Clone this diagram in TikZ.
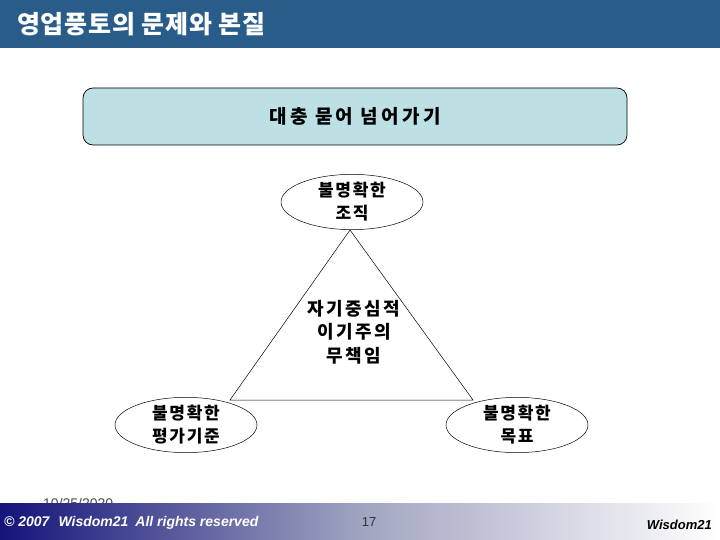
\documentclass[tikz,border=0pt]{standalone}
\usepackage{fontspec}
\setmainfont{Liberation Sans}
\newfontfamily\kr{Noto Sans CJK KR}
\newfontfamily\krt[LetterSpace=3]{Noto Sans CJK KR}
\newfontfamily\krw[LetterSpace=10]{Noto Sans CJK KR}
\newfontfamily\krc[LetterSpace=13]{Noto Sans CJK KR}
\newfontfamily\krb[LetterSpace=17]{Noto Sans CJK KR}
\usetikzlibrary{shapes.geometric,calc}
\definecolor{titlebar}{HTML}{2A5C8A}
\definecolor{boxfill}{HTML}{BCE0E4}
\definecolor{navy}{HTML}{14147A}
\definecolor{midgray}{HTML}{A0A4C0}
\begin{document}
\begin{tikzpicture}[x=1pt,y=-1pt,
  oval/.style={ellipse,draw=black,line width=0.5pt,minimum width=142pt,minimum height=54pt,inner sep=0pt,align=center,font=\krw\bfseries\fontsize{17}{23}\selectfont},
  edge/.style={draw=black,line width=0.5pt},
  krtext/.style={font=\krc\bfseries\fontsize{18}{23.5}\selectfont,align=center,inner sep=0pt}]
\useasboundingbox (0,0) rectangle (720,540);
\fill[white] (0,0) rectangle (720,540);
% title bar
\fill[titlebar] (0,0) rectangle (720,48);
\node[anchor=west,text=white,font=\krt\bfseries\fontsize{25}{28}\selectfont,inner sep=0pt] (title) at (17,24) {영업풍토의 문제와 본질};
% top box
\node[draw=black,line width=0.7pt,fill=boxfill,rounded corners=10pt,minimum width=544pt,minimum height=57pt,inner sep=0pt,font=\krb\bfseries\fontsize{19}{21}\selectfont] (box) at (355,116.5) {\raisebox{-1.5pt}{대충 묻어 넘어가기}};
% ellipses
\node[oval] (top) at (352,202) {불명확한\\조직};
\node[oval,minimum height=50pt] (left) at (186,425) {불명확한\\평가기준};
\node[oval,minimum height=50pt] (right) at (517,425) {불명확한\\목표};
% triangle
\coordinate (apex) at (350,230);
\coordinate (bl) at (230,400);
\coordinate (br) at (473,400);
\draw[edge] (apex) -- (bl) -- (br) -- cycle;
% centre text
\node[krtext] (centre) at (354,332) {자기중심적\\이기주의\\무책임};
% date (partly hidden)
\node[anchor=base west,text=black!70,font=\fontsize{14}{16}\selectfont,inner sep=0pt] (date) at (43,508) {10/25/2020};
% footer
\shade[left color=navy,right color=midgray] (0,503) rectangle (360,540);
\shade[left color=midgray,right color=white] (360,503) rectangle (720,540);
\node[anchor=west,text=white,font=\bfseries\itshape\fontsize{14}{16}\selectfont,inner sep=0pt] (copy) at (4,523) {© 2007\hspace{9pt}Wisdom21\hspace{7pt}All rights reserved};
\node[text=black!80,font=\fontsize{13}{15}\selectfont,inner sep=0pt] (page) at (369,522) {17};
\node[anchor=east,text=black,font=\bfseries\itshape\fontsize{13}{15}\selectfont,inner sep=0pt] (brand) at (712,525) {Wisdom21};
\end{tikzpicture}
\end{document}
